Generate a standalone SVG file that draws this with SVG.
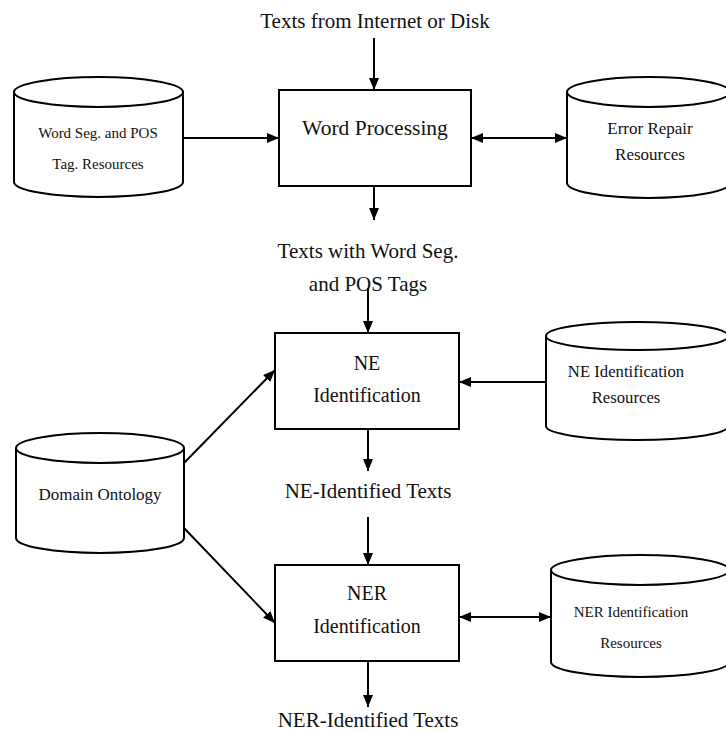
<svg xmlns="http://www.w3.org/2000/svg" width="726" height="731" viewBox="0 0 726 731">
  <defs>
    <marker id="arrow" viewBox="0 0 12 10" refX="12" refY="5" markerWidth="12" markerHeight="10" markerUnits="userSpaceOnUse" orient="auto-start-reverse">
      <path d="M0,0 L12,5 L0,10 Z" fill="#000"/>
    </marker>
    <style>
      .box { fill: #fff; stroke: #000; stroke-width: 2; }
      .cyl { fill: #fff; stroke: #000; stroke-width: 2; }
      .edge { fill: none; stroke: #000; stroke-width: 2; }
      .big { font-family: "Liberation Serif", "Times New Roman", serif; font-size: 20px; fill: #111; text-anchor: middle; }
      .label { font-family: "Liberation Serif", "Times New Roman", serif; font-size: 21px; fill: #111; text-anchor: middle; }
      .small { font-family: "Liberation Serif", "Times New Roman", serif; font-size: 15px; fill: #111; text-anchor: middle; }
      .mid { font-family: "Liberation Serif", "Times New Roman", serif; font-size: 17px; fill: #111; text-anchor: middle; }
    </style>
  </defs>
  <rect width="726" height="731" fill="#fff"/>

  <!-- connectors -->
  <g id="connectors">
    <line class="edge" x1="374" y1="38" x2="374" y2="90" marker-end="url(#arrow)"/>
    <line class="edge" x1="183" y1="138" x2="279" y2="138" marker-end="url(#arrow)"/>
    <line class="edge" x1="471" y1="138" x2="567" y2="138" marker-start="url(#arrow)" marker-end="url(#arrow)"/>
    <line class="edge" x1="374" y1="186" x2="374" y2="220" marker-end="url(#arrow)"/>
    <line class="edge" x1="368" y1="288" x2="368" y2="333" marker-end="url(#arrow)"/>
    <line class="edge" x1="546" y1="382" x2="459" y2="382" marker-end="url(#arrow)"/>
    <line class="edge" x1="184" y1="463" x2="275" y2="370" marker-end="url(#arrow)"/>
    <line class="edge" x1="184" y1="528" x2="275" y2="623" marker-end="url(#arrow)"/>
    <line class="edge" x1="368" y1="429" x2="368" y2="471" marker-end="url(#arrow)"/>
    <line class="edge" x1="368" y1="517" x2="368" y2="565" marker-end="url(#arrow)"/>
    <line class="edge" x1="459" y1="617" x2="551" y2="617" marker-start="url(#arrow)" marker-end="url(#arrow)"/>
    <line class="edge" x1="368" y1="661" x2="368" y2="707" marker-end="url(#arrow)"/>
  </g>

  <!-- free labels on the flow -->
  <g id="label-input">
    <text class="label" x="375" y="28" font-size="21.5">Texts from Internet or Disk</text>
  </g>
  <g id="label-tagged">
    <text class="label" x="368" y="258">Texts with Word Seg.</text>
    <text class="label" x="368" y="291">and POS Tags</text>
  </g>
  <g id="label-ne">
    <text class="label" x="368" y="498">NE-Identified Texts</text>
  </g>
  <g id="label-ner">
    <text class="label" x="368" y="727">NER-Identified Texts</text>
  </g>

  <!-- process boxes -->
  <g id="word-processing">
    <rect class="box" x="279" y="90" width="192" height="96"/>
    <text class="big" x="375" y="135" style="font-size:21.5px">Word Processing</text>
  </g>
  <g id="ne-identification">
    <rect class="box" x="275" y="333" width="184" height="96"/>
    <text class="big" x="367" y="370">NE</text>
    <text class="big" x="367" y="402">Identification</text>
  </g>
  <g id="ner-identification">
    <rect class="box" x="275" y="565" width="184" height="96"/>
    <text class="big" x="367" y="600">NER</text>
    <text class="big" x="367" y="633">Identification</text>
  </g>

  <!-- resource stores (cylinders) -->
  <g id="wordseg-resources">
    <path class="cyl" d="M14,92 V182 A84.5,15 0 0 0 183,182 V92"/>
    <ellipse class="cyl" cx="98.5" cy="92" rx="84.5" ry="15"/>
    <text class="small" x="98" y="138">Word Seg. and POS</text>
    <text class="small" x="98" y="169">Tag. Resources</text>
  </g>
  <g id="error-repair-resources">
    <path class="cyl" d="M567,92 V183 A81.5,15 0 0 0 730,183 V92"/>
    <ellipse class="cyl" cx="648.5" cy="92" rx="81.5" ry="15"/>
    <text class="mid" x="650" y="134">Error Repair</text>
    <text class="mid" x="650" y="160">Resources</text>
  </g>
  <g id="ne-resources">
    <path class="cyl" d="M546,336 V426 A91,14 0 0 0 728,426 V336"/>
    <ellipse class="cyl" cx="637" cy="336" rx="91" ry="14"/>
    <text class="mid" x="626" y="377" style="font-size:16.7px">NE Identification</text>
    <text class="mid" x="626" y="403" style="font-size:16.7px">Resources</text>
  </g>
  <g id="domain-ontology">
    <path class="cyl" d="M16,448 V538 A84,15 0 0 0 184,538 V448"/>
    <ellipse class="cyl" cx="100" cy="448" rx="84" ry="15"/>
    <text class="mid" x="100" y="500">Domain Ontology</text>
  </g>
  <g id="ner-resources">
    <path class="cyl" d="M551,570 V662 A89,15 0 0 0 729,662 V570"/>
    <ellipse class="cyl" cx="640" cy="570" rx="89" ry="15"/>
    <text class="small" x="631" y="617">NER Identification</text>
    <text class="small" x="631" y="648">Resources</text>
  </g>
</svg>
